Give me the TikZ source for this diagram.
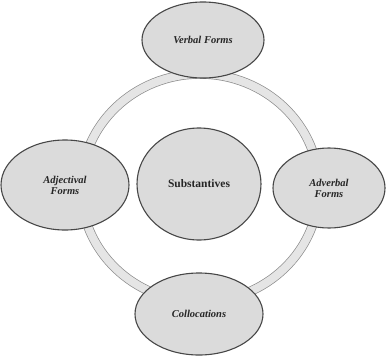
\documentclass[tikz,border=0pt]{standalone}
\usepackage{fontspec}
\setmainfont{Liberation Serif}
\usetikzlibrary{shapes.geometric}
\definecolor{blobfill}{gray}{0.86}
\definecolor{blobline}{gray}{0.28}
\definecolor{ringband}{gray}{0.90}
\definecolor{ringedge}{gray}{0.55}
\begin{document}
\begin{tikzpicture}[x=1pt,y=-1pt,
  blob/.style={ellipse,draw=blobline,line width=1.1pt,fill=blobfill,inner sep=0pt,
    font=\fontsize{10.5}{11}\selectfont\bfseries\itshape,align=center,text=black!85},
  core/.style={ellipse,draw=blobline,line width=1.1pt,fill=blobfill,inner sep=0pt,
    font=\fontsize{11.5}{13}\selectfont\bfseries,text=black!85}]
  \useasboundingbox[fill=white] (0,0) rectangle (386,362);
  % connecting ring
  \coordinate (hub) at (200,188);
  \draw[ringedge,line width=0.7pt,double=ringband,double distance=8pt] (hub) circle[x radius=119pt,y radius=114pt];
  % center
  \node[core,minimum width=124pt,minimum height=112pt] (sub) at (199,184) {Substantives};
  % satellites
  \node[blob,minimum width=122pt,minimum height=76pt] (verb) at (203,40) {Verbal Forms};
  \node[blob,minimum width=128pt,minimum height=90pt] (adj) at (65,185) {Adjectival\\Forms};
  \node[blob,minimum width=112pt,minimum height=80pt] (adv) at (329,188) {Adverbal\\Forms};
  \node[blob,minimum width=128pt,minimum height=82pt] (col) at (199,314) {Collocations};
\end{tikzpicture}
\end{document}
